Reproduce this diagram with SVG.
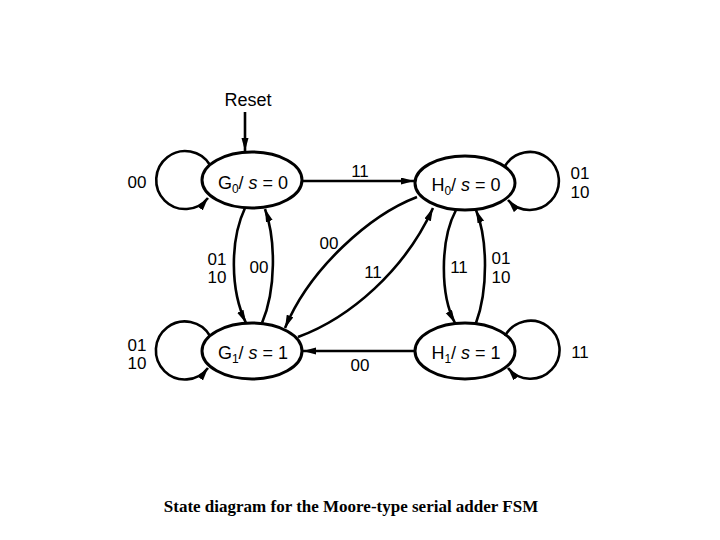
<svg xmlns="http://www.w3.org/2000/svg" width="720" height="540" viewBox="0 0 720 540">
<style>
.st{fill:none;stroke:#000;stroke-width:3}
.ed{fill:none;stroke:#000;stroke-width:2.6;marker-end:url(#ah)}
.nt{font-family:"Liberation Sans",Arial,sans-serif;font-size:18px;text-anchor:middle;fill:#000}
.lb{font-family:"Liberation Sans",Arial,sans-serif;font-size:17px;text-anchor:middle;fill:#000}
.cap{font-family:"Liberation Serif","Times New Roman",serif;font-size:17px;font-weight:bold;text-anchor:middle;fill:#000}
.sub{font-size:12px}
</style>
<defs>
<marker id="ah" markerUnits="userSpaceOnUse" markerWidth="14" markerHeight="8" refX="13" refY="3.5" orient="auto">
<path d="M0,0 L13,3.5 L0,7 z" fill="#000"/>
</marker>
</defs>
<rect width="720" height="540" fill="#fff"/>
<g id="connectors">
<path class="ed" d="M245,112 L245,151"/>
<path class="ed" d="M210,165 A29,29 0 1 0 208,198"/>
<path class="ed" d="M505,166 A29,29 0 1 1 508,200"/>
<path class="ed" d="M210,336 A29,29 0 1 0 208,368"/>
<path class="ed" d="M505,336 A29,29 0 1 1 508,368"/>
<path class="ed" d="M302,181 L414,181"/>
<path class="ed" d="M414,351 L303,351"/>
<path class="ed" d="M245,208 C230,240 230,290 246,323"/>
<path class="ed" d="M262,323 C276,290 276,240 265,209"/>
<path class="ed" d="M417,197 C370,215 310,268 285,328"/>
<path class="ed" d="M298,337 C350,318 405,270 433,208"/>
<path class="ed" d="M456,210 C440,240 440,295 455,323"/>
<path class="ed" d="M476,323 C488,290 488,240 476,210"/>
</g>
<g id="G0">
<ellipse class="st" cx="252" cy="180" rx="50" ry="28"/>
<text class="nt" x="253" y="189">G<tspan class="sub" dy="4">0</tspan><tspan dy="-4">/ </tspan><tspan font-style="italic">s</tspan> = 0</text>
</g>
<g id="H0">
<ellipse class="st" cx="465" cy="183" rx="50" ry="27"/>
<text class="nt" x="466" y="191">H<tspan class="sub" dy="4">0</tspan><tspan dy="-4">/ </tspan><tspan font-style="italic">s</tspan> = 0</text>
</g>
<g id="G1">
<ellipse class="st" cx="252" cy="351" rx="50" ry="28"/>
<text class="nt" x="253" y="359">G<tspan class="sub" dy="4">1</tspan><tspan dy="-4">/ </tspan><tspan font-style="italic">s</tspan> = 1</text>
</g>
<g id="H1">
<ellipse class="st" cx="465" cy="351" rx="50" ry="28"/>
<text class="nt" x="466" y="359">H<tspan class="sub" dy="4">1</tspan><tspan dy="-4">/ </tspan><tspan font-style="italic">s</tspan> = 1</text>
</g>
<g id="labels">
<text class="nt" x="248" y="106">Reset</text>
<text class="lb" x="137" y="188">00</text>
<text class="lb" x="360" y="177">11</text>
<text class="lb" x="580" y="179">01</text>
<text class="lb" x="580" y="198">10</text>
<text class="lb" x="217" y="265">01</text>
<text class="lb" x="217" y="283">10</text>
<text class="lb" x="259" y="273">00</text>
<text class="lb" x="329" y="249">00</text>
<text class="lb" x="373" y="278">11</text>
<text class="lb" x="459" y="273">11</text>
<text class="lb" x="501" y="264">01</text>
<text class="lb" x="501" y="283">10</text>
<text class="lb" x="137" y="351">01</text>
<text class="lb" x="137" y="369">10</text>
<text class="lb" x="360" y="371">00</text>
<text class="lb" x="580" y="358">11</text>
</g>
<text class="cap" x="351" y="512">State diagram for the Moore-type serial adder FSM</text>
</svg>
